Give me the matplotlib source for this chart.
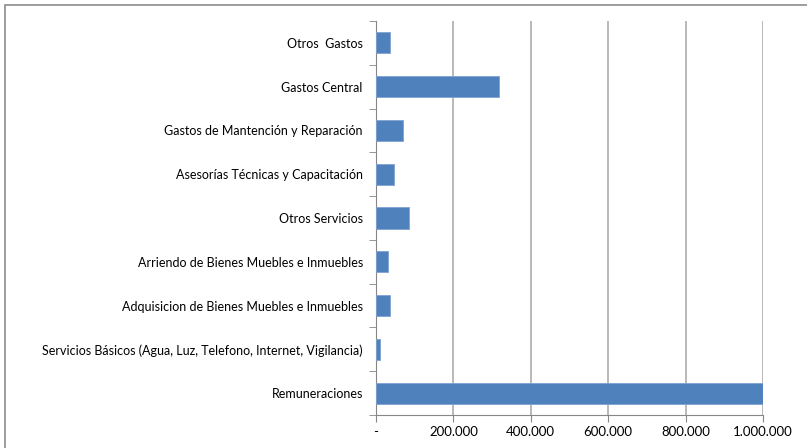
import numpy as np
import matplotlib.pyplot as plt
from matplotlib.patches import Rectangle
from matplotlib.ticker import FuncFormatter

categorias = [
    "Remuneraciones",
    "Servicios Básicos (Agua, Luz, Telefono, Internet, Vigilancia)",
    "Adquisicion de Bienes Muebles e Inmuebles",
    "Arriendo de Bienes Muebles e Inmuebles",
    "Otros Servicios",
    "Asesorías Técnicas y Capacitación",
    "Gastos de Mantención y Reparación",
    "Gastos Central",
    "Otros  Gastos",
]
montos = [1000000, 10000, 35000, 30000, 84000, 46000, 70000, 319000, 36000]
xticks = [0, 200000, 400000, 600000, 800000, 1000000]

plt.rcParams['font.family'] = ['Lato', 'DejaVu Sans']

fig = plt.figure(figsize=(8.07, 4.48), dpi=100)
# marco exterior tipo Excel
fig.patches.append(Rectangle((5 / 807, -0.1), 1.2, 1 - 5 / 448 + 0.1,
                             transform=fig.transFigure, fill=False,
                             edgecolor='#8c8c8c', linewidth=1.2))

ax = fig.add_axes([376 / 807, 33 / 448, 387 / 807, 394 / 448])
y = np.arange(len(categorias))
ax.barh(y, montos, height=0.48, color='#4F81BD', edgecolor='#7ea3d3',
        linewidth=0.6, zorder=3)

ax.set_xlim(0, 1000000)
ax.set_ylim(-0.5, len(categorias) - 0.5)
ax.set_xticks(xticks)
ax.xaxis.set_major_formatter(FuncFormatter(
    lambda v, p: '-' if v == 0 else f"{int(v):,}".replace(',', '.')))
ax.set_yticks(y)
ax.set_yticklabels(categorias)
ax.set_yticks(np.arange(-0.5, len(categorias)), minor=True)

ax.grid(axis='x', color='#a6a6a6', linewidth=1.1, zorder=0)
ax.tick_params(axis='y', which='major', length=0, pad=9.5, labelsize=9)
ax.tick_params(axis='y', which='minor', length=5, color='#868686')
ax.tick_params(axis='x', length=5, color='#868686', labelsize=9.5, pad=3)

for s in ['top', 'right']:
    ax.spines[s].set_visible(False)
for s in ['left', 'bottom']:
    ax.spines[s].set_color('#868686')

fig.savefig('out.png', dpi=100)
